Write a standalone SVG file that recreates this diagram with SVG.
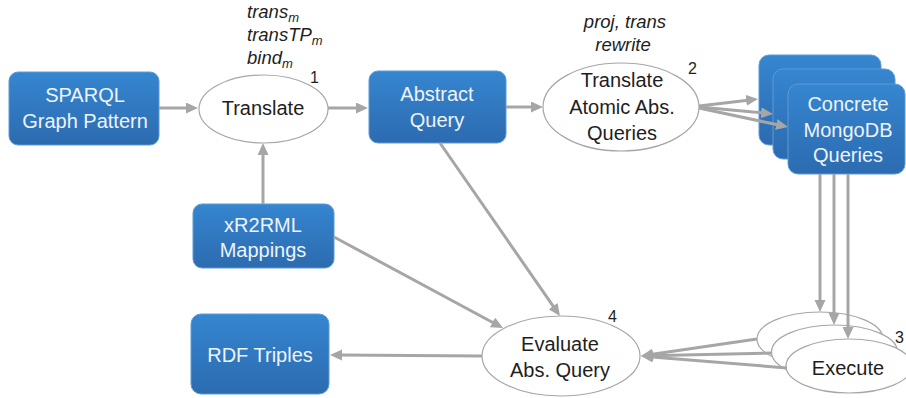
<svg xmlns="http://www.w3.org/2000/svg" width="906" height="398" viewBox="0 0 906 398">
<defs>
<linearGradient id="blue" x1="0" y1="0" x2="0" y2="1">
<stop offset="0" stop-color="#3586D0"/>
<stop offset="1" stop-color="#2C6BB0"/>
</linearGradient>
<marker id="ah" markerUnits="userSpaceOnUse" markerWidth="12" markerHeight="12" refX="4" refY="5.5" orient="auto">
<path d="M0,0 L12,5.5 L0,11 z" fill="#A6A6A6"/>
</marker>
<style>
.box{fill:url(#blue);stroke:#5C9BD6;stroke-width:1}
.ell{fill:#FFFFFF;stroke:#A6A6A6;stroke-width:1.2}
.bt{font-family:"Liberation Sans",Arial,sans-serif;font-size:20px;fill:#EEF3FA;text-anchor:middle}
.et{font-family:"Liberation Sans",Arial,sans-serif;font-size:20px;fill:#1E1E1E;text-anchor:middle}
.lab{font-family:"Liberation Sans",Arial,sans-serif;font-size:18.5px;font-style:italic;fill:#1E1E1E}
.sub{font-size:13px}
.num{font-family:"Liberation Sans",Arial,sans-serif;font-size:16px;fill:#1E1E1E}
.c{fill:none;stroke:#A6A6A6;stroke-width:3;marker-end:url(#ah)}
</style>
</defs>
<rect width="906" height="398" fill="#FFFFFF"/>

<g id="sparql">
<rect class="box" x="9" y="72" width="150" height="73" rx="9"/>
<text class="bt" x="85" y="102">SPARQL</text>
<text class="bt" x="85" y="128">Graph Pattern</text>
</g>

<g id="translate">
<ellipse class="ell" cx="263.5" cy="109" rx="64.5" ry="34"/>
<text class="et" x="263" y="115">Translate</text>
<text class="lab" x="247" y="18">trans<tspan class="sub" dy="4">m</tspan></text>
<text class="lab" x="247" y="41">transTP<tspan class="sub" dy="4">m</tspan></text>
<text class="lab" x="247" y="64">bind<tspan class="sub" dy="4">m</tspan></text>
<text class="num" x="310" y="83">1</text>
</g>

<g id="abstract">
<rect class="box" x="369" y="71" width="137" height="72" rx="9"/>
<text class="bt" x="437" y="101">Abstract</text>
<text class="bt" x="437" y="127">Query</text>
</g>

<g id="translate-atomic">
<ellipse class="ell" cx="621" cy="107" rx="78" ry="44"/>
<text class="et" x="622" y="87">Translate</text>
<text class="et" x="622" y="114">Atomic Abs.</text>
<text class="et" x="622" y="140">Queries</text>
<text class="lab" x="625" y="28" text-anchor="middle">proj, trans</text>
<text class="lab" x="623" y="51" text-anchor="middle">rewrite</text>
<text class="num" x="688" y="74">2</text>
</g>

<g id="concrete">
<rect class="box" x="759" y="55" width="122" height="90" rx="10"/>
<rect class="box" x="773" y="69" width="122" height="90" rx="10"/>
<rect class="box" x="788" y="84" width="117" height="90" rx="10"/>
<text class="bt" x="848" y="111">Concrete</text>
<text class="bt" x="848" y="137">MongoDB</text>
<text class="bt" x="848" y="162">Queries</text>
</g>

<g id="xr2rml">
<rect class="box" x="193" y="204" width="141" height="64" rx="9"/>
<text class="bt" x="263" y="232">xR2RML</text>
<text class="bt" x="263" y="257">Mappings</text>
</g>

<g id="rdf">
<rect class="box" x="191" y="314" width="138" height="80" rx="10"/>
<text class="bt" x="260" y="362">RDF Triples</text>
</g>

<g id="evaluate">
<ellipse class="ell" cx="561" cy="356" rx="79" ry="40"/>
<text class="et" x="560" y="351">Evaluate</text>
<text class="et" x="560" y="377">Abs. Query</text>
<text class="num" x="608" y="322">4</text>
</g>

<g id="execute">
<ellipse class="ell" cx="820" cy="339" rx="63" ry="27"/>
<ellipse class="ell" cx="834.5" cy="352" rx="63" ry="27"/>
<ellipse class="ell" cx="849" cy="366" rx="63" ry="27"/>
<text class="et" x="848" y="375">Execute</text>
<text class="num" x="895" y="343">3</text>
</g>

<g id="connectors">
<line class="c" x1="159" y1="108" x2="190" y2="108"/>
<line class="c" x1="328" y1="108" x2="360" y2="108"/>
<line class="c" x1="506" y1="107" x2="535" y2="107"/>
<line class="c" x1="263" y1="204" x2="263" y2="151"/>
<line class="c" x1="699" y1="106" x2="750.1" y2="99.9"/>
<line class="c" x1="699" y1="107" x2="765" y2="113.2"/>
<line class="c" x1="699" y1="108" x2="780.2" y2="125.3"/>
<line class="c" x1="820" y1="174" x2="820" y2="304"/>
<line class="c" x1="834" y1="174" x2="834" y2="317"/>
<line class="c" x1="848" y1="174" x2="848" y2="331"/>
<line class="c" x1="757" y1="339" x2="648.9" y2="354.8"/>
<line class="c" x1="772" y1="353" x2="649" y2="355.8"/>
<line class="c" x1="787" y1="368" x2="649" y2="356.7"/>
<line class="c" x1="440" y1="143" x2="555.4" y2="309.4"/>
<line class="c" x1="334" y1="237" x2="496" y2="324.2"/>
<line class="c" x1="482" y1="356" x2="338" y2="355"/>
</g>
</svg>
